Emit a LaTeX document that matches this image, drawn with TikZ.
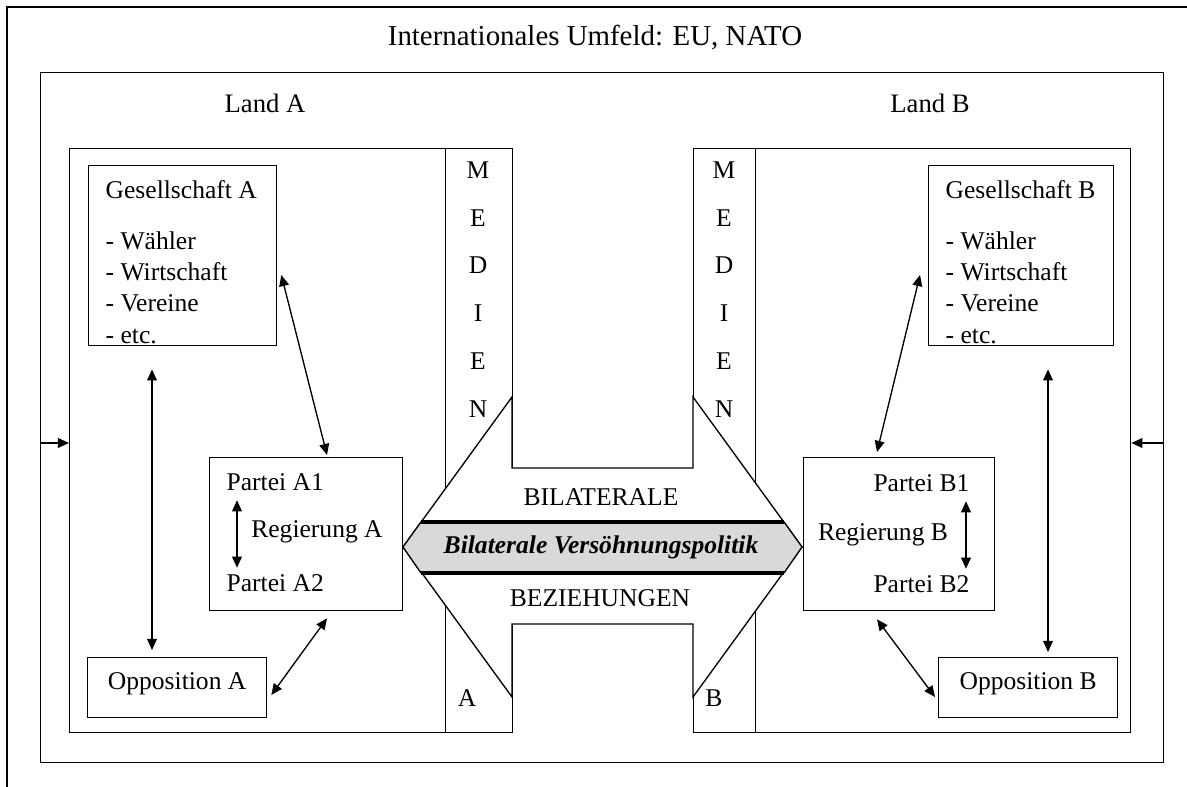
\documentclass[tikz,border=0pt]{standalone}
\usepackage{fontspec}
\setmainfont{Liberation Serif}
\usetikzlibrary{arrows.meta,calc}

\newlength{\pxlen}
\setlength{\pxlen}{0.45pt}
\definecolor{bandgrau}{rgb}{0.85,0.85,0.85}

\tikzset{
  rahmen/.style={draw, line width=0.6pt, inner sep=0pt, anchor=north west},
  txt/.style={inner sep=0pt, font=\fontsize{11.5}{14}\selectfont},
  gross/.style={inner sep=0pt, font=\fontsize{12}{14}\selectfont},
  pfeil/.style={line width=0.6pt, {Triangle[length=5pt,width=4.4pt]}-{Triangle[length=5pt,width=4.4pt]}},
  einpfeil/.style={line width=0.6pt, -{Triangle[length=5pt,width=4.4pt]}},
}

\begin{document}
\begin{tikzpicture}[x=0.45pt, y=-0.45pt, line width=0.6pt]
            \useasboundingbox (0,0) rectangle (1187,787);

            \draw (7,787) -- (7,7) -- (1187,7);
            \node[gross, font=\fontsize{13}{15}\selectfont] (umfeld) at (595,38) {Internationales Umfeld: EU, NATO};

            \node[rahmen, minimum width=1123*\pxlen, minimum height=690*\pxlen] (mitte) at (40,72) {};
            \node[gross] (landAtxt) at (265,103) {Land A};
            \node[gross] (landBtxt) at (930,103) {Land B};

            \node[rahmen, minimum width=443*\pxlen, minimum height=584*\pxlen] (landA) at (69,148) {};
            \node[rahmen, minimum width=437*\pxlen, minimum height=584*\pxlen] (landB) at (693,148) {};
            \node[rahmen, minimum width=67*\pxlen, minimum height=584*\pxlen] (medA) at (445,148) {};
            \node[rahmen, minimum width=62*\pxlen, minimum height=584*\pxlen] (medB) at (693,148) {};

            \foreach \ch [count=\i] in {M,E,D,I,E,N} {
                \node[txt] (medA\i) at (478,{170+47.8*(\i-1)}) {\ch};
                \node[txt] (medB\i) at (724,{170+47.8*(\i-1)}) {\ch};
            }

            % Doppelpfeil
            \filldraw[fill=white] (403,547) -- (512,397) -- (512,468) -- (693,468) -- (693,397) -- (802,547)
                -- (693,697) -- (693,624) -- (512,624) -- (512,697) -- cycle;
            \fill[bandgrau] (403,547) -- (421,522) -- (784,522) -- (802,547) -- (784,573) -- (421,573) -- cycle;
            \draw (421,573) -- (403,547) -- (421,522);
            \draw (784,522) -- (802,547) -- (784,573);
            \draw[line width=1.5pt] (421,522) -- (784,522);
            \draw[line width=1.5pt] (421,573) -- (784,573);
            \node[txt] (bil) at (601,497) {BILATERALE};
            \node[txt] (politik) at (601,547) {\textbf{\textit{Bilaterale Versöhnungspolitik}}};
            \node[txt] (bez) at (600,598) {BEZIEHUNGEN};
            \node[txt] (medAfuss) at (467,698) {A};
            \node[txt] (medBfuss) at (714,698) {B};

            % Land A
            \node[rahmen, minimum width=188*\pxlen, minimum height=180*\pxlen] (gesA) at (88,165) {};
            \node[txt, anchor=north west, align=left] (gesAtxt) at (105,180)
                {Gesellschaft A\\[9pt]- Wähler\\- Wirtschaft\\- Vereine\\- etc.};
            \node[rahmen, minimum width=193*\pxlen, minimum height=153*\pxlen] (regA) at (209,457) {};
            \node[txt, anchor=west] (parteiA1) at (226,482) {Partei A1};
            \node[txt] (regAtxt) at (317,532) {Regierung A};
            \node[txt, anchor=west] (parteiA2) at (226,583) {Partei A2};
            \node[rahmen, minimum width=179*\pxlen, minimum height=60*\pxlen] (oppA) at (87,657) {};
            \node[txt] (oppAtxt) at ($(oppA.center)+(0,-4)$) {Opposition A};

            % Land B
            \node[rahmen, minimum width=185*\pxlen, minimum height=180*\pxlen] (gesB) at (928,165) {};
            \node[txt, anchor=north west, align=left] (gesBtxt) at (945,180)
                {Gesellschaft B\\[9pt]- Wähler\\- Wirtschaft\\- Vereine\\- etc.};
            \node[rahmen, minimum width=191*\pxlen, minimum height=153*\pxlen] (regB) at (803,457) {};
            \node[txt, anchor=east] (parteiB1) at (970,483) {Partei B1};
            \node[txt] (regBtxt) at (883,535) {Regierung B};
            \node[txt, anchor=east] (parteiB2) at (970,584) {Partei B2};
            \node[rahmen, minimum width=179*\pxlen, minimum height=60*\pxlen] (oppB) at (938,657) {};
            \node[txt] (oppBtxt) at ($(oppB.center)+(0,-4)$) {Opposition B};

            % Pfeile
            \draw[einpfeil] ($(mitte.north west)+(0,371)$) -- ($(landA.north west)+(0,295)$);
            \draw[einpfeil] ($(mitte.north east)+(0,371)$) -- ($(landB.north east)+(0,295)$);
            \draw[pfeil] ($(parteiA1.south west)+(11,9)$) -- ($(parteiA2.north west)+(11,-6)$);
            \draw[pfeil] ($(parteiB1.south east)+(-4,9)$) -- ($(parteiB2.north east)+(-4,-6)$);
            \draw[pfeil] ($(gesA.south west)+(64,23)$) -- ($(oppA.north west)+(65,-7)$);
            \draw[pfeil] ($(gesA.north east)+(4,110)$) -- ($(regA.north west)+(118,-2)$);
            \draw[pfeil] ($(regA.south west)+(118,7)$) -- ($(oppA.north east)+(4,38)$);
            \draw[pfeil] ($(gesB.south west)+(120,23)$) -- ($(oppB.north west)+(110,-5)$);
            \draw[pfeil] ($(gesB.north west)+(-8,110)$) -- ($(regB.north west)+(74,-5)$);
            \draw[pfeil] ($(regB.south west)+(74,8)$) -- ($(oppB.north west)+(-3,40)$);
        \end{tikzpicture}
\end{document}
